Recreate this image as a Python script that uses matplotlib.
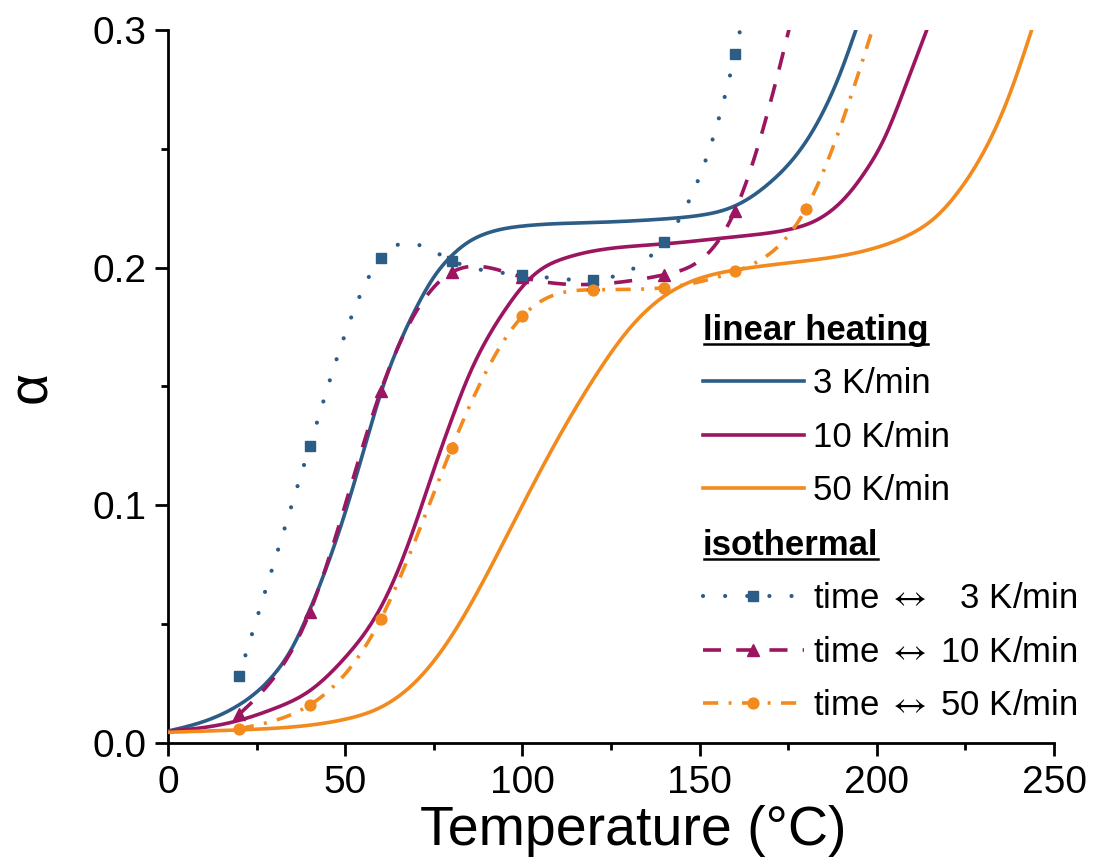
import numpy as np
import matplotlib
matplotlib.use('Agg')
import matplotlib.pyplot as plt
from matplotlib.lines import Line2D
from matplotlib.font_manager import FontProperties

FONT = ['Liberation Sans', 'DejaVu Sans']
plt.rcParams['font.family'] = FONT
plt.rcParams['mathtext.fontset'] = 'stixsans'

# ---------------- data ----------------
# linear heating (model curves)
T_lin3 = [0, 10, 20, 30, 35, 40, 45, 50, 55, 60, 65, 70, 75, 80, 85, 90, 100, 120, 140, 150, 160, 170, 180, 185, 190, 194.1]
a_lin3 = [0.005, 0.009, 0.016, 0.029, 0.040, 0.056, 0.075, 0.097, 0.122, 0.147, 0.167, 0.183, 0.196, 0.205, 0.211,
          0.2145, 0.2175, 0.219, 0.2205, 0.222, 0.226, 0.236, 0.253, 0.266, 0.283, 0.300]

T_lin10 = [0, 10, 20, 30, 40, 50, 60, 65, 70, 75, 80, 85, 90, 95, 100, 105, 112, 120, 140, 160, 175, 183, 192, 197,
           202, 208, 214.1]
a_lin10 = [0.005, 0.0065, 0.0095, 0.0145, 0.022, 0.036, 0.057, 0.073, 0.093, 0.115, 0.136, 0.155, 0.170, 0.182,
           0.192, 0.199, 0.204, 0.207, 0.210, 0.213, 0.216, 0.220, 0.231, 0.241, 0.254, 0.276, 0.300]

T_lin50 = [0, 20, 40, 50, 60, 70, 80, 90, 100, 110, 120, 130, 140, 150, 160, 175, 190, 200, 210, 216, 224, 232, 238, 243.7]
a_lin50 = [0.0045, 0.0055, 0.0075, 0.010, 0.015, 0.026, 0.045, 0.071, 0.100, 0.128, 0.153, 0.174, 0.188, 0.1955,
           0.199, 0.202, 0.205, 0.2085, 0.2145, 0.2205, 0.234, 0.254, 0.275, 0.300]

# isothermal (time <-> temperature) points
T_iso3 = [20, 40, 60, 80, 100, 120, 140, 160]
a_iso3 = [0.028, 0.125, 0.204, 0.203, 0.197, 0.195, 0.211, 0.290]
T_iso10 = [20, 40, 60, 80, 100, 120, 140, 160]
a_iso10 = [0.012, 0.055, 0.148, 0.198, 0.196, 0.193, 0.197, 0.224]
T_iso50 = [20, 40, 60, 80, 100, 120, 140, 160, 180]
a_iso50 = [0.006, 0.016, 0.052, 0.124, 0.1795, 0.1907, 0.1916, 0.1984, 0.2248]
# next (off-scale) isothermal points, only the connecting line is visible
T_next = [180, 180, 200]
a_next = [0.47, 0.33, 0.306]

legend_lin = ['3 K/min', '10 K/min', '50 K/min']
legend_iso = [r'time $\leftrightarrow$   3 K/min', r'time $\leftrightarrow$ 10 K/min', r'time $\leftrightarrow$ 50 K/min']

C3, C10, C50 = '#2C5D87', '#9B1560', '#F28A1E'


# ---------------- smooth (spline) connection ----------------
def spline(x, y, n=900):
    x = np.asarray(x, float); y = np.asarray(y, float)
    N = len(x); h = np.diff(x)
    A = np.zeros((N, N)); r = np.zeros(N)
    A[0, 0] = A[-1, -1] = 1
    for i in range(1, N - 1):
        A[i, i - 1] = h[i - 1]; A[i, i] = 2 * (h[i - 1] + h[i]); A[i, i + 1] = h[i]
        r[i] = 6 * ((y[i + 1] - y[i]) / h[i] - (y[i] - y[i - 1]) / h[i - 1])
    M = np.linalg.solve(A, r)
    xs = np.linspace(x[0], x[-1], n)
    k = np.clip(np.searchsorted(x, xs) - 1, 0, N - 2)
    t0 = x[k]; t1 = x[k + 1]; hk = h[k]
    ys = (M[k] * (t1 - xs)**3 / (6 * hk) + M[k + 1] * (xs - t0)**3 / (6 * hk)
          + (y[k] / hk - M[k] * hk / 6) * (t1 - xs) + (y[k + 1] / hk - M[k + 1] * hk / 6) * (xs - t0))
    return xs, ys


# ---------------- figure ----------------
fig = plt.figure(figsize=(10.93, 8.67), dpi=100)
ax = fig.add_axes([168 / 1093, 1 - 743 / 867, 886 / 1093, 713 / 867])

LW = 2.6
LW_DOT = 3.0
dot_ls = (0, (0.01, 5.3))
dash_ls = (0, (5, 4.2))
dashdot_ls = (0, (4.2, 2.9, 0.8, 2.9))

# linear heating
for T, a, c in [(T_lin3, a_lin3, C3), (T_lin10, a_lin10, C10), (T_lin50, a_lin50, C50)]:
    xs, ys = spline(T, a)
    ax.plot(xs, ys, color=c, lw=LW, solid_capstyle='round', zorder=3)

# isothermal lines (spline connection through points)
xs, ys = spline(T_iso3 + T_next[:1], a_iso3 + a_next[:1])
ax.plot(xs, ys, color=C3, lw=LW_DOT, ls=dot_ls, dash_capstyle='round', zorder=4)
xs, ys = spline(T_iso10 + T_next[1:2], a_iso10 + a_next[1:2])
ax.plot(xs, ys, color=C10, lw=LW, ls=dash_ls, zorder=4)
xs, ys = spline(T_iso50 + T_next[2:], a_iso50 + a_next[2:])
ax.plot(xs, ys, color=C50, lw=LW, ls=dashdot_ls, zorder=4)

# markers
MS_S, MS_T, MS_C = 7.3, 8.8, 7.8
ax.plot(T_iso10, a_iso10, ls='none', marker='^', ms=MS_T, color=C10, zorder=5)
ax.plot(T_iso3, a_iso3, ls='none', marker='s', ms=MS_S, color=C3, zorder=6)
ax.plot(T_iso50, a_iso50, ls='none', marker='o', ms=MS_C, color=C50, zorder=7)

ax.set_xlim(0, 250)
ax.set_ylim(0, 0.3)
ax.set_xticks([0, 50, 100, 150, 200, 250])
ax.set_xticks([25, 75, 125, 175, 225], minor=True)
ax.set_yticks([0.0, 0.1, 0.2, 0.3])
ax.set_yticks([0.05, 0.15, 0.25], minor=True)
ax.set_yticklabels(['0.0', '0.1', '0.2', '0.3'])
for s in ['top', 'right']:
    ax.spines[s].set_visible(False)
for s in ['left', 'bottom']:
    ax.spines[s].set_linewidth(2.0)
ax.tick_params(which='major', length=9.5, width=2.0, direction='out', labelsize=28, pad=6)
ax.tick_params(which='minor', length=4.8, width=2.0, direction='out')

ax.set_xlabel('Temperature (\u00b0C)', fontsize=40)
ax.xaxis.set_label_coords(0.525, -0.087)
ax.set_ylabel('\u03b1', fontsize=40)
ax.yaxis.set_label_coords(-0.124, 0.5)

# legends
FS = 25
prop = FontProperties(family=FONT, size=FS)
tprop = FontProperties(family=FONT, size=FS, weight='bold')
h_lin = [Line2D([], [], color=c, lw=LW) for c in (C3, C10, C50)]
h_iso = [Line2D([], [], color=C3, lw=LW_DOT, ls=dot_ls, dash_capstyle='round', marker='s', ms=MS_S),
         Line2D([], [], color=C10, lw=LW, ls=dash_ls, marker='^', ms=MS_T),
         Line2D([], [], color=C50, lw=LW, ls=dashdot_ls, marker='o', ms=MS_C)]

common = dict(loc='upper left', frameon=False, prop=prop, title_fontproperties=tprop, alignment='left',
              borderpad=0, borderaxespad=0, handlelength=2.9, handletextpad=0.26, labelspacing=0.59,
              numpoints=1, bbox_transform=fig.transFigure)
leg1 = ax.legend(h_lin, legend_lin, title='linear heating',
                 bbox_to_anchor=(703 / 1093, 1 - 314 / 867), **common)
ax.add_artist(leg1)
leg2 = ax.legend(h_iso, legend_iso, title='isothermal',
                 bbox_to_anchor=(703 / 1093, 1 - 529 / 867), **common)

# underline legend titles
fig.canvas.draw()
r = fig.canvas.get_renderer()
inv = fig.transFigure.inverted()
px_em = FS * 100 / 72
for leg in (leg1, leg2):
    bb = leg.get_title().get_window_extent(r)
    yb = bb.y0 + 0.10 * px_em
    (x0, y0), (x1, _) = inv.transform([(bb.x0 + 1, yb), (bb.x1 - 1, yb)])
    fig.add_artist(Line2D([x0, x1], [y0, y0], color='black', lw=1.8, transform=fig.transFigure))

fig.savefig('out.png', dpi=100)
